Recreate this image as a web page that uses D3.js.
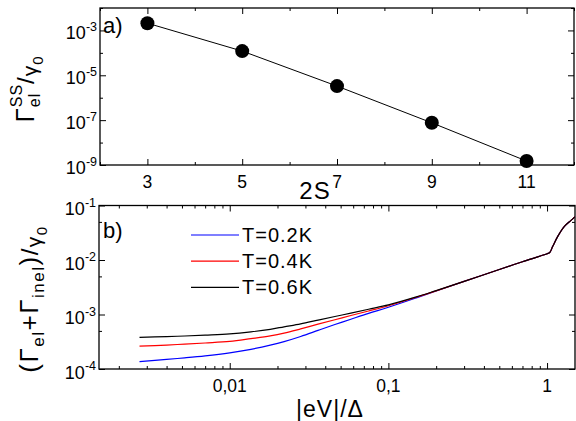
<!DOCTYPE html>
<html><head><meta charset="utf-8">
<script src="https://cdn.jsdelivr.net/npm/d3@7"></script>
<style>
body{margin:0;background:#fff}
svg{display:block}
text{font-family:"Liberation Sans",Arial,sans-serif;fill:#000}
</style>
</head><body>
<svg id="c" width="576" height="421"></svg>
<script>
// ---- panel a) data ----
const spinValues = [3, 5, 7, 9, 11];
const gammaSS = [2.1e-3, 1.2e-4, 3.3e-6, 7.6e-8, 1.5e-9];
const topXTicks = [3, 5, 7, 9, 11];
const topXMinor = [2, 4, 6, 8, 10, 12];
const topYTicks = [1e-9, 1e-7, 1e-5, 1e-3];
const topYTickExp = ["-9", "-7", "-5", "-3"];
const topYMinor = [1e-8, 1e-6, 1e-4, 1e-2];

// ---- panel b) data ----
const voltage = [0.0027,0.004,0.0052,0.007,0.01,0.0136,0.018,0.022,0.028,0.036,0.046,0.058,0.075,0.1,0.15,0.2,0.3,0.5,0.7,1.0,1.04,1.086,1.168,1.286,1.416,1.5];
const rateT02 = [1.36e-4,1.5e-4,1.6e-4,1.74e-4,1.98e-4,2.3e-4,2.74e-4,3.18e-4,3.95e-4,5.1e-4,6.55e-4,8.2e-4,1.05e-3,1.36e-3,2.02e-3,2.7e-3,4.05e-3,6.7e-3,9.3e-3,1.3e-2,1.37e-2,1.78e-2,2.71e-2,4.14e-2,5.34e-2,6.2e-2];
const rateT04 = [2.62e-4,2.75e-4,2.86e-4,3.0e-4,3.2e-4,3.6e-4,4.05e-4,4.55e-4,5.45e-4,6.65e-4,8.0e-4,9.6e-4,1.16e-3,1.45e-3,2.07e-3,2.72e-3,4.05e-3,6.7e-3,9.3e-3,1.3e-2,1.37e-2,1.78e-2,2.71e-2,4.14e-2,5.34e-2,6.2e-2];
const rateT06 = [3.82e-4,3.93e-4,4.03e-4,4.18e-4,4.4e-4,4.8e-4,5.35e-4,5.95e-4,6.75e-4,7.9e-4,9.2e-4,1.06e-3,1.25e-3,1.5e-3,2.1e-3,2.75e-3,4.05e-3,6.7e-3,9.3e-3,1.3e-2,1.37e-2,1.78e-2,2.71e-2,4.14e-2,5.34e-2,6.2e-2];
const seriesNames = ["T=0.2K", "T=0.4K", "T=0.6K"];
const seriesColors = ["#0000ff", "#ff0000", "#000000"];
const botXTicks = [0.01, 0.1, 1];
const botXTickLabels = ["0,01", "0,1", "1"];
const botYTicks = [1e-4, 1e-3, 1e-2, 1e-1];
const botYTickExp = ["-4", "-3", "-2", "-1"];
const botYMinor = [5e-4, 5e-3, 5e-2];

const svg = d3.select("#c");

// helper: rich text laid out piece by piece
function rich(g, pieces, anchor, ls) {
  let x = 0, prevX = 0;
  const nodes = [];
  pieces.forEach(p => {
    const t = g.append("text").text(p.t).attr("font-size", p.s).attr("y", p.dy || 0)
      .attr("letter-spacing", ls || 0);
    const w = t.node().getComputedTextLength();
    let px;
    if (p.stack) { px = prevX; x = Math.max(x, prevX + w); }
    else { px = x; x += w; }
    t.attr("x", px);
    prevX = px;
    nodes.push(t);
  });
  const shift = anchor === "middle" ? -x / 2 : (anchor === "end" ? -x : 0);
  nodes.forEach(t => t.attr("x", +t.attr("x") + shift));
}

function logLabel(g, x, y, exp) {
  const gg = g.append("g").attr("transform", `translate(${x},${y})`);
  rich(gg, [{t: "10", s: 18, dy: 0}, {t: exp, s: 12.5, dy: -8.5}], "end");
}

// ================= panel a =================
const xA = d3.scaleLinear().domain([2, 12]).range([100, 574]);
const yA = d3.scaleLog().domain([1e-9, 1e-2]).range([165, 8]);
const gA = svg.append("g");

[[d3.axisBottom, 165], [d3.axisTop, 8]].forEach(([f, ty]) => {
  gA.append("g").attr("transform", `translate(0,${ty})`).call(f(xA).tickValues(topXTicks).tickSize(-6).tickFormat(""));
  gA.append("g").attr("transform", `translate(0,${ty})`).call(f(xA).tickValues(topXMinor).tickSize(-3).tickFormat(""));
});
[[d3.axisLeft, 100], [d3.axisRight, 574]].forEach(([f, tx]) => {
  gA.append("g").attr("transform", `translate(${tx},0)`).call(f(yA).tickValues(topYTicks).tickSize(-6).tickFormat(""));
  gA.append("g").attr("transform", `translate(${tx},0)`).call(f(yA).tickValues(topYMinor).tickSize(-3).tickFormat(""));
});
gA.selectAll(".domain").remove();
gA.append("rect").attr("x", 100).attr("y", 8).attr("width", 474).attr("height", 157)
  .attr("fill", "none").attr("stroke", "#000").attr("stroke-width", 1.3);

topXTicks.forEach(v => {
  gA.append("text").attr("x", xA(v)).attr("y", 188).attr("text-anchor", "middle")
    .attr("font-size", 17.5).text(v);
});
topYTicks.forEach((v, i) => logLabel(gA, 97, yA(v) + 9, topYTickExp[i]));

const lineA = d3.line().x((d, i) => xA(spinValues[i])).y(d => yA(d));
gA.append("path").datum(gammaSS).attr("d", lineA).attr("fill", "none")
  .attr("stroke", "#000").attr("stroke-width", 1);
gA.selectAll("circle").data(gammaSS).join("circle")
  .attr("cx", (d, i) => xA(spinValues[i])).attr("cy", d => yA(d)).attr("r", 7).attr("fill", "#000");

gA.append("text").attr("x", 103).attr("y", 33).attr("font-size", 22).text("a)");
gA.append("text").attr("x", 315).attr("y", 199).attr("text-anchor", "middle").attr("font-size", 24).attr("letter-spacing", 1).text("2S");

const ylA = gA.append("g").attr("transform", "translate(34,89) rotate(-90)");
rich(ylA, [
  {t: "\u0393", s: 26, dy: 0},
  {t: "el", s: 16, dy: 6},
  {t: "SS", s: 16, dy: -12, stack: true},
  {t: "/", s: 24, dy: 0},
  {t: "\u03b3", s: 21, dy: 3},
  {t: "0", s: 15, dy: 9}
], "middle", 1);

// ================= panel b =================
const xB = d3.scaleLog().domain([0.0015, 1.5]).range([99, 575]);
const yB = d3.scaleLog().domain([1e-4, 1e-1]).range([369, 205.5]);
const gB = svg.append("g");

const botXMinor = [];
[0.001, 0.01, 0.1, 1].forEach(d => { for (let k = 2; k <= 9; k++) { const v = k * d; if (v > 0.0015 && v < 1.5) botXMinor.push(v); } });

[[d3.axisBottom, 369], [d3.axisTop, 205.5]].forEach(([f, ty]) => {
  gB.append("g").attr("transform", `translate(0,${ty})`).call(f(xB).tickValues(botXTicks).tickSize(-6).tickFormat(""));
  gB.append("g").attr("transform", `translate(0,${ty})`).call(f(xB).tickValues(botXMinor).tickSize(-3).tickFormat(""));
});
[[d3.axisLeft, 99], [d3.axisRight, 575]].forEach(([f, tx]) => {
  gB.append("g").attr("transform", `translate(${tx},0)`).call(f(yB).tickValues(botYTicks).tickSize(-6).tickFormat(""));
  gB.append("g").attr("transform", `translate(${tx},0)`).call(f(yB).tickValues(botYMinor).tickSize(-3).tickFormat(""));
});
gB.selectAll(".domain").remove();
gB.append("rect").attr("x", 99).attr("y", 205.5).attr("width", 476).attr("height", 163.5)
  .attr("fill", "none").attr("stroke", "#000").attr("stroke-width", 1.3);

botXTicks.forEach((v, i) => {
  gB.append("text").attr("x", xB(v)).attr("y", 392).attr("text-anchor", "middle")
    .attr("font-size", 17.5).text(botXTickLabels[i]);
});
botYTicks.forEach((v, i) => logLabel(gB, 96, yB(v) + 9.5, botYTickExp[i]));

svg.append("clipPath").attr("id", "clipB").append("rect")
  .attr("x", 99).attr("y", 205.5).attr("width", 476).attr("height", 163.5);
const lineB = d3.line().x((d, i) => xB(voltage[i])).y(d => yB(d)).curve(d3.curveCatmullRom.alpha(0.5));
[rateT02, rateT04, rateT06].forEach((s, k) => {
  gB.append("path").datum(s).attr("d", lineB).attr("fill", "none")
    .attr("stroke", seriesColors[k]).attr("stroke-width", 1.2).attr("clip-path", "url(#clipB)");
});

// legend
seriesNames.forEach((n, k) => {
  const ly = 235 + k * 26.2;
  gB.append("line").attr("x1", 191).attr("x2", 239).attr("y1", ly).attr("y2", ly)
    .attr("stroke", seriesColors[k]).attr("stroke-width", 1.2);
  gB.append("text").attr("x", 242).attr("y", ly + 7).attr("font-size", 20)
    .attr("letter-spacing", 1).text(n);
});

gB.append("text").attr("x", 103).attr("y", 238).attr("font-size", 22).text("b)");
gB.append("text").attr("x", 330).attr("y", 417).attr("text-anchor", "middle").attr("font-size", 23)
  .attr("letter-spacing", 1).text("|eV|/\u0394");

const ylB = gB.append("g").attr("transform", "translate(38,299) rotate(-90)");
rich(ylB, [
  {t: "(", s: 26, dy: 0},
  {t: "\u0393", s: 26, dy: 0},
  {t: "el", s: 17, dy: 6},
  {t: "+", s: 26, dy: 0},
  {t: "\u0393", s: 26, dy: 0},
  {t: "inel", s: 17, dy: 6},
  {t: ")", s: 26, dy: 0},
  {t: "/", s: 24, dy: 0},
  {t: "\u03b3", s: 21, dy: 3},
  {t: "0", s: 15, dy: 9}
], "middle", 1.5);
</script>
</body></html>
